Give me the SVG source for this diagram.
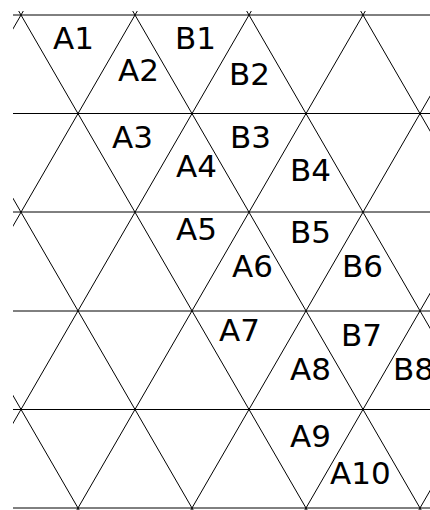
<svg xmlns="http://www.w3.org/2000/svg" width="430" height="510" viewBox="0 0 430 510">
<style>
.g line{stroke:#000;stroke-width:1;fill:none}
.lbl{font-family:"DejaVu Sans","Verdana",sans-serif;font-size:31px;fill:#000}
</style>
<defs>
<clipPath id="clip"><rect x="13" y="11" width="417" height="499"/></clipPath>
</defs>
<rect width="430" height="510" fill="#fff"/>
<g id="grid" class="g" clip-path="url(#clip)">
<line x1="13" y1="15" x2="430" y2="15"/>
<line x1="13" y1="113.5" x2="430" y2="113.5"/>
<line x1="13" y1="212" x2="430" y2="212"/>
<line x1="13" y1="311" x2="430" y2="311"/>
<line x1="13" y1="409.5" x2="430" y2="409.5"/>
<line x1="13" y1="508" x2="430" y2="508"/>
<line x1="-209.3" y1="11" x2="80.3" y2="512"/>
<line x1="-95.3" y1="11" x2="194.3" y2="512"/>
<line x1="18.7" y1="11" x2="308.3" y2="512"/>
<line x1="132.7" y1="11" x2="422.3" y2="512"/>
<line x1="246.7" y1="11" x2="536.3" y2="512"/>
<line x1="360.7" y1="11" x2="650.3" y2="512"/>
<line x1="23.3" y1="11" x2="-266.3" y2="512"/>
<line x1="137.3" y1="11" x2="-152.3" y2="512"/>
<line x1="251.3" y1="11" x2="-38.3" y2="512"/>
<line x1="365.3" y1="11" x2="75.7" y2="512"/>
<line x1="479.3" y1="11" x2="189.7" y2="512"/>
<line x1="593.3" y1="11" x2="303.7" y2="512"/>
<line x1="707.3" y1="11" x2="417.7" y2="512"/>
</g>
<g id="labels">
<g id="A1"><text class="lbl" x="53" y="49">A1</text></g>
<g id="B1"><text class="lbl" x="175" y="49">B1</text></g>
<g id="A2"><text class="lbl" x="118" y="81">A2</text></g>
<g id="B2"><text class="lbl" x="229" y="85">B2</text></g>
<g id="A3"><text class="lbl" x="112" y="148">A3</text></g>
<g id="B3"><text class="lbl" x="230" y="148">B3</text></g>
<g id="A4"><text class="lbl" x="176" y="177">A4</text></g>
<g id="B4"><text class="lbl" x="290" y="181">B4</text></g>
<g id="A5"><text class="lbl" x="176" y="240">A5</text></g>
<g id="B5"><text class="lbl" x="290" y="243">B5</text></g>
<g id="A6"><text class="lbl" x="232" y="277">A6</text></g>
<g id="B6"><text class="lbl" x="342" y="277">B6</text></g>
<g id="A7"><text class="lbl" x="219" y="341">A7</text></g>
<g id="B7"><text class="lbl" x="341" y="346">B7</text></g>
<g id="A8"><text class="lbl" x="290" y="380">A8</text></g>
<g id="B8"><text class="lbl" x="393" y="380">B8</text></g>
<g id="A9"><text class="lbl" x="290" y="447">A9</text></g>
<g id="A10"><text class="lbl" x="330" y="484">A10</text></g>
</g>
</svg>
